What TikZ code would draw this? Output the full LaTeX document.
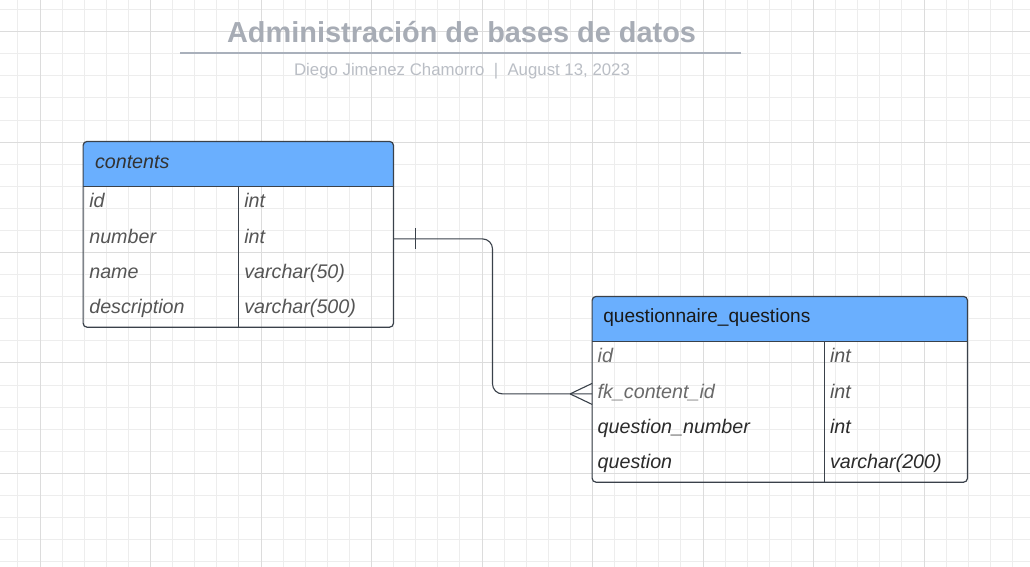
\documentclass[tikz,border=0pt]{standalone}
\usepackage{fontspec}
\setmainfont{Liberation Sans}
\usetikzlibrary{calc}
\definecolor{gridminor}{HTML}{EDEDED}
\definecolor{gridmajor}{HTML}{DCDCDC}
\definecolor{hdrblue}{HTML}{6AAFFE}
\definecolor{edgecol}{HTML}{3A414A}
\definecolor{titlegray}{HTML}{A7ACB5}
\definecolor{subgray}{HTML}{BABEC5}
\definecolor{rulegray}{HTML}{A9B0BB}
\definecolor{txtdark}{HTML}{2B2B2B}
\definecolor{txthead}{HTML}{333333}
\definecolor{txtmid}{HTML}{555555}
\definecolor{txtlight}{HTML}{6A6A6A}
\begin{document}
\begin{tikzpicture}[x=1pt,y=-1pt,
  rowbox/.style={draw=none, rectangle, inner sep=0pt, minimum height=35.25pt},
  hdrbox/.style={draw=none, rectangle, inner sep=0pt, minimum height=44.5pt},
  cell/.style={anchor=base west, inner sep=0pt, font=\fontsize{19.7}{22}\selectfont\itshape},
  edgeline/.style={draw=edgecol, line width=1.2pt},
  conn/.style={draw=edgecol, line width=1.1pt},
  gminor/.style={draw=gridminor, line width=0.9pt},
  gmajor/.style={draw=gridmajor, line width=0.9pt}]
\useasboundingbox (0,0) rectangle (1030,567);
\fill[white] (0,0) rectangle (1030,567);
% grid
\foreach \k in {-1,...,44} {\pgfmathsetmacro\gx{40+22.1*\k}\draw[gminor] (\gx,0) -- (\gx,567);}
\foreach \k in {-1,...,24} {\pgfmathsetmacro\gy{31.7+22.08*\k}\draw[gminor] (0,\gy) -- (1030,\gy);}
\foreach \k in {0,5,...,40} {\pgfmathsetmacro\gx{40+22.1*\k}\draw[gmajor] (\gx,0) -- (\gx,567);}
\foreach \k in {0,5,...,20} {\pgfmathsetmacro\gy{31.7+22.08*\k}\draw[gmajor] (0,\gy) -- (1030,\gy);}

% title
\node[anchor=base, inner sep=0pt, font=\bfseries\fontsize{28.9}{32}\selectfont, text=titlegray] (title) at (461.6,42.5) {Administración de bases de datos};
\coordinate (ruleL) at (180,53.3);
\coordinate (ruleR) at (741,53.3);
\draw[rulegray, line width=2.4pt] (ruleL) -- (ruleR);
\node[anchor=base, inner sep=0pt, font=\fontsize{16.8}{20}\selectfont, text=subgray] (subtitle) at (462,76) {Diego Jimenez Chamorro\ \ |\ \ August 13, 2023};

% ---------- contents table ----------
\node[hdrbox, minimum width=310pt] (chdr) at (238.3,163.85) {};
\node[rowbox, minimum width=310pt] (c1) at (238.3,203.6) {};
\node[rowbox, minimum width=310pt] (c2) at (238.3,238.9) {};
\node[rowbox, minimum width=310pt] (c3) at (238.3,274.1) {};
\node[rowbox, minimum width=310pt] (c4) at (238.3,309.4) {};
\fill[hdrblue] (chdr.south west) {[rounded corners=4pt] -- (chdr.north west) -- (chdr.north east)} -- (chdr.south east) -- cycle;
\draw[edgeline] (chdr.south west) -- (chdr.south east);
\coordinate (cdivT) at (238.3,186);
\coordinate (cdivB) at (238.3,327.3);
\draw[edgeline] (cdivT) -- (cdivB);
\draw[edgeline, rounded corners=4pt] (chdr.north west) rectangle (c4.south east);
\node[cell, text=txthead] (chdrt) at ($(chdr.west)+(11.7,4.4)$) {contents};
\node[cell, text=txtmid] (c1k) at ($(c1.west)+(6,4.2)$) {id};
\node[cell, text=txtmid] (c1v) at ($(c1.west)+(161,4.2)$) {int};
\node[cell, text=txtmid] (c2k) at ($(c2.west)+(6,4.2)$) {number};
\node[cell, text=txtmid] (c2v) at ($(c2.west)+(161,4.2)$) {int};
\node[cell, text=txtmid] (c3k) at ($(c3.west)+(6,4.2)$) {name};
\node[cell, text=txtmid] (c3v) at ($(c3.west)+(161,4.2)$) {varchar(50)};
\node[cell, text=txtmid] (c4k) at ($(c4.west)+(6,4.2)$) {description};
\node[cell, text=txtmid] (c4v) at ($(c4.west)+(161,4.2)$) {varchar(500)};

% ---------- questionnaire_questions table ----------
\node[hdrbox, minimum width=375pt] (qhdr) at (779.8,318.85) {};
\node[rowbox, minimum width=375pt] (q1) at (779.8,358.6) {};
\node[rowbox, minimum width=375pt] (q2) at (779.8,393.9) {};
\node[rowbox, minimum width=375pt] (q3) at (779.8,429.1) {};
\node[rowbox, minimum width=375pt] (q4) at (779.8,464.4) {};
\fill[hdrblue] (qhdr.south west) {[rounded corners=4pt] -- (qhdr.north west) -- (qhdr.north east)} -- (qhdr.south east) -- cycle;
\draw[edgeline] (qhdr.south west) -- (qhdr.south east);
\coordinate (qdivT) at (824.6,341);
\coordinate (qdivB) at (824.6,482.3);
\draw[edgeline] (qdivT) -- (qdivB);
\draw[edgeline, rounded corners=4pt] (qhdr.north west) rectangle (q4.south east);
\node[cell, font=\fontsize{19.1}{22}\selectfont\upshape, text=black!90] (qhdrt) at ($(qhdr.west)+(11,3.6)$) {questionnaire\_questions};
\node[cell, text=txtlight] (q1k) at ($(q1.west)+(5.4,4.2)$) {id};
\node[cell, text=txtmid] (q1v) at ($(q1.west)+(237.7,4.2)$) {int};
\node[cell, text=txtlight] (q2k) at ($(q2.west)+(5.4,4.2)$) {fk\_content\_id};
\node[cell, text=txtmid] (q2v) at ($(q2.west)+(237.7,4.2)$) {int};
\node[cell, text=txtdark] (q3k) at ($(q3.west)+(5.4,4.2)$) {question\_number};
\node[cell, text=txtdark] (q3v) at ($(q3.west)+(237.7,4.2)$) {int};
\node[cell, text=txtdark] (q4k) at ($(q4.west)+(5.4,4.2)$) {question};
\node[cell, text=txtdark] (q4v) at ($(q4.west)+(237.7,4.2)$) {varchar(200)};

% ---------- relationship ----------
\draw[conn, rounded corners=10pt] (c2.east) -- ++(99,0) |- (q2.west);
\draw[conn] ($(c2.east)+(22.4,-10.6)$) -- ($(c2.east)+(22.4,10.4)$);
\draw[conn] ($(q2.west)+(-22,0)$) -- ($(q2.west)+(0,-10.5)$);
\draw[conn] ($(q2.west)+(-22,0)$) -- ($(q2.west)+(0,10.5)$);
\end{tikzpicture}
\end{document}
